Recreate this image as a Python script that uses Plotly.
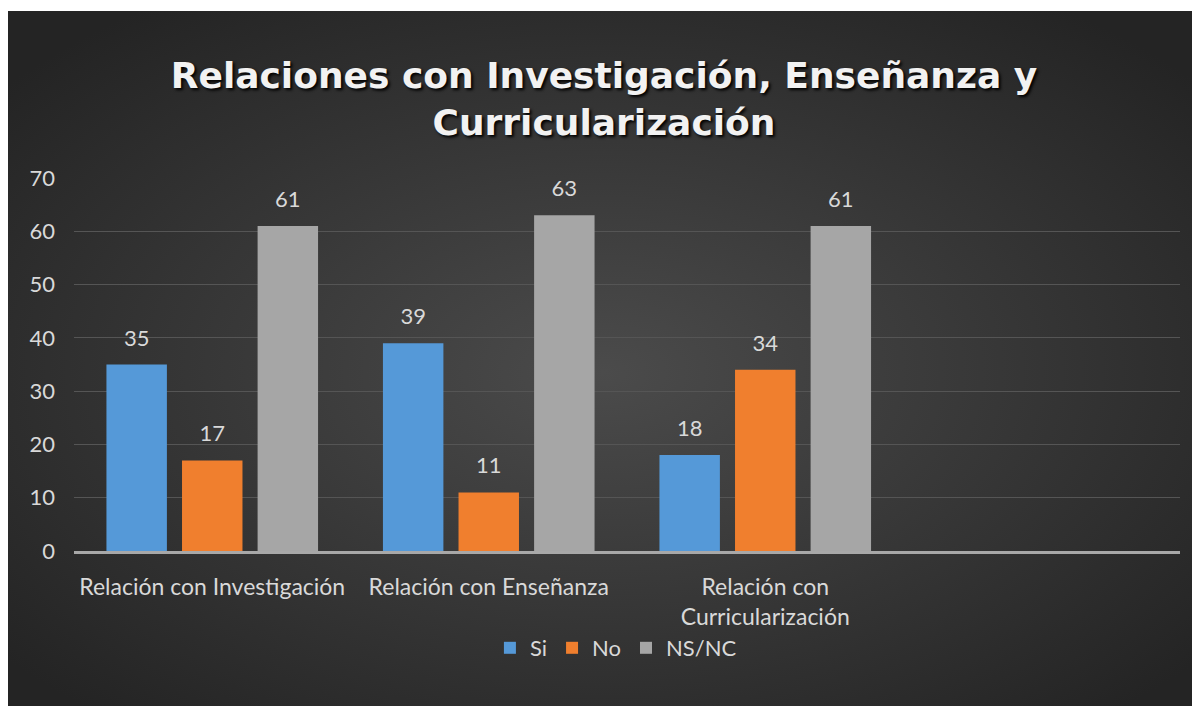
import base64
import plotly.graph_objects as go

categories = ["Relación con Investigación", "Relación con Enseñanza", "Relación con<br>Curricularización"]
series_names = ["Si", "No", "NS/NC"]
si_values = [35, 39, 18]
no_values = [17, 11, 34]
nsnc_values = [61, 63, 61]
y_ticks = [0, 10, 20, 30, 40, 50, 60, 70]

colors = ["#5599d8", "#f07f2e", "#a6a6a6"]
TXT = "#d9d9d9"
FONT = "Lato"

# figure offset by the page's 8px body margin
W, H = 1192, 698
ML, MR, MT, MB = 66, 20, 170, 155
pw = W - ML - MR
ph = H - MT - MB

svg = """<svg xmlns='http://www.w3.org/2000/svg' width='1192' height='695' viewBox='0 0 1192 695' preserveAspectRatio='none'>
<defs><radialGradient id='g' cx='50%' cy='52%' r='65%'>
<stop offset='0%' stop-color='#4b4b4b'/><stop offset='100%' stop-color='#242424'/></radialGradient></defs>
<rect width='1192' height='695' fill='url(#g)'/></svg>"""
src = "data:image/svg+xml;base64," + base64.b64encode(svg.encode()).decode()

# dark panel in figure pixels
px0, py0, px1, py1 = 0, 3, 1192, 698
img_x = (px0 - ML) / pw
img_y = (H - MB - py0) / ph
img_sx = (px1 - px0) / pw
img_sy = (py1 - py0) / ph

GAP = 0.18
fig = go.Figure()
for i, (name, vals, col) in enumerate(zip(series_names, [si_values, no_values, nsnc_values], colors)):
    fig.add_trace(go.Bar(
        name=name, x=categories, y=vals, offsetgroup=str(i),
        marker=dict(color=col, line=dict(width=0)),
        hoverinfo="x+y+name",
    ))
for i, vals in enumerate([si_values, no_values, nsnc_values]):
    fig.add_trace(go.Scatter(
        x=categories, y=vals, offsetgroup=str(i), mode="markers+text",
        marker=dict(size=20, opacity=0), text=[str(v) for v in vals],
        textposition="top center", textfont=dict(family=FONT, size=22, color=TXT),
        showlegend=False, hoverinfo="skip", cliponaxis=False,
    ))

fig.update_layout(
    width=W, height=H,
    margin=dict(l=ML, r=MR, t=MT, b=MB, autoexpand=False),
    paper_bgcolor="white",
    plot_bgcolor="rgba(0,0,0,0)",
    barmode="group", bargap=GAP, bargroupgap=0.2,
    scattermode="group", scattergap=GAP,
    font=dict(family=FONT, color=TXT, size=22),
    title=dict(
        text="Relaciones con Investigación, Enseñanza y<br>Curricularización",
        x=0.5, xref="container", xanchor="center",
        y=1 - 80 / H, yref="container", yanchor="middle",
        font=dict(family="DejaVu Sans", size=36, color="#f2f2f2", weight="bold",
                  shadow="2px 2px 3px #000000"),
    ),
    legend=dict(
        orientation="h", xref="container", x=0.51, xanchor="center",
        yref="container", y=1 - 640 / H, yanchor="middle",
        font=dict(family=FONT, size=22, color=TXT),
        bgcolor="rgba(0,0,0,0)", itemwidth=30, traceorder="normal",
    ),
    images=[dict(source=src, xref="paper", yref="paper", x=img_x, y=img_y,
                 sizex=img_sx, sizey=img_sy, sizing="stretch",
                 xanchor="left", yanchor="top", layer="below")],
    showlegend=True,
)
fig.update_xaxes(
    type="category", range=[-0.5, 3.5], automargin=False,
    showline=True, linecolor="#a8a8a8", linewidth=2.5,
    showgrid=False, ticks="", ticklabelstandoff=14,
    tickfont=dict(family=FONT, size=23, color=TXT),
)
fig.update_yaxes(
    range=[0, 70], tickvals=y_ticks, automargin=False,
    showgrid=True, gridcolor="#555555", gridwidth=1,
    zeroline=False, showline=False, ticks="", ticklabelstandoff=18,
    tickfont=dict(family=FONT, size=22, color=TXT),
)

fig.write_html("out.html")
